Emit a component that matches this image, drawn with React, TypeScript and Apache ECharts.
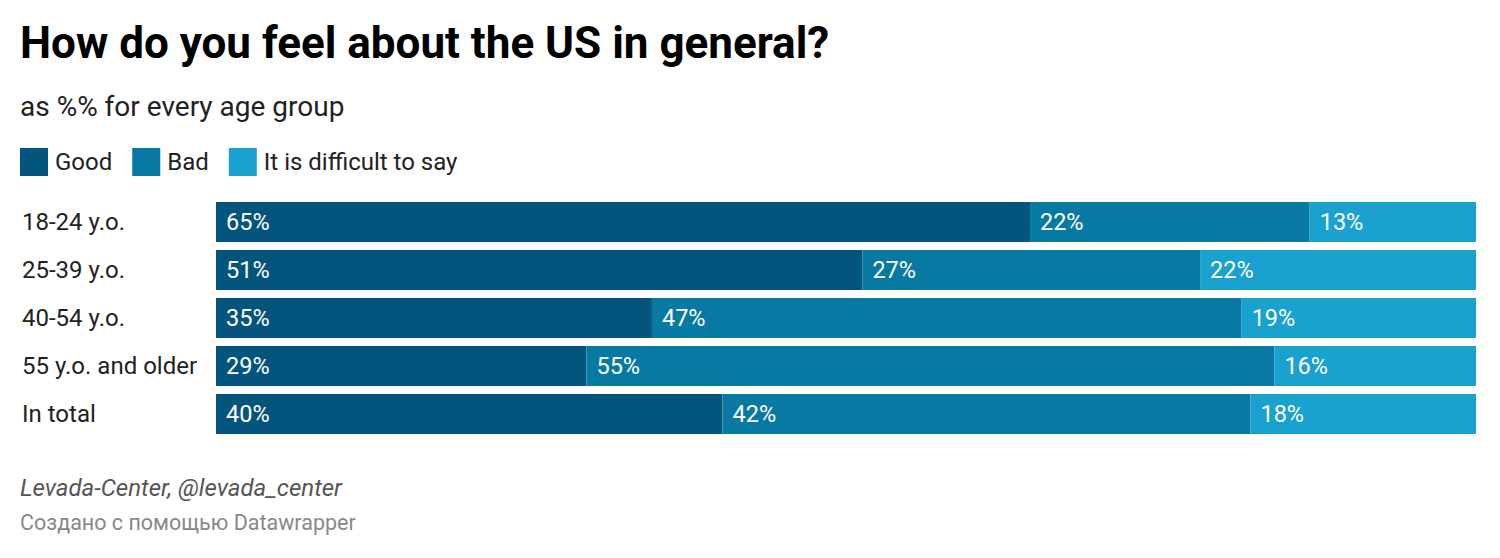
import React, { useEffect, useRef } from "react";
import * as echarts from "echarts";

const categories = ["18-24 y.o.", "25-39 y.o.", "40-54 y.o.", "55 y.o. and older", "In total"];
const seriesNames = ["Good", "Bad", "It is difficult to say"];
const good = [64.6, 51.3, 34.6, 29.4, 40.2];
const bad = [22.2, 26.8, 46.8, 54.6, 41.9];
const difficult = [13.2, 21.9, 18.6, 16.0, 18.0];
const colors = ["#03557d", "#0779a3", "#19a1cf"];

const FONT = "Roboto, 'Noto Sans', sans-serif";

export default function App() {
  const ref = useRef<HTMLDivElement>(null);
  useEffect(() => {
    document.body.style.margin = "0";
    if (!ref.current) return;
    const chart = echarts.init(ref.current, undefined, { renderer: "svg" });
    const raw = [good, bad, difficult];
    const series = raw.map((arr, s) => ({
      name: seriesNames[s],
      type: "bar",
      stack: "total",
      barWidth: 40,
      itemStyle: { color: colors[s] },
      emphasis: { disabled: true },
      label: {
        show: true,
        position: "insideLeft",
        distance: 10,
        color: "#ffffff",
        fontSize: 23.5,
        fontFamily: FONT,
        formatter: (p: any) => Math.round(p.value) + "%",
      },
      data: arr,
    }));
    chart.setOption({
      animation: false,
      textStyle: { fontFamily: FONT },
      title: [
        {
          text: "How do you feel about the US in general?",
          left: 20,
          top: 21,
          padding: 0,
          textStyle: { fontSize: 44, fontWeight: "bold", color: "#000", fontFamily: FONT },
        },
        {
          text: "as %% for every age group",
          left: 20,
          top: 92,
          padding: 0,
          textStyle: { fontSize: 28, fontWeight: "normal", color: "#222", fontFamily: FONT },
        },
        {
          text: "Levada-Center, @levada_center",
          left: 20,
          top: 476,
          padding: 0,
          textStyle: { fontSize: 24, fontWeight: "normal", fontStyle: "italic", color: "#555", fontFamily: FONT },
        },
        {
          text: "Создано с помощью Datawrapper",
          left: 20,
          top: 511,
          padding: 0,
          textStyle: { fontSize: 21.5, fontWeight: "normal", color: "#888", fontFamily: FONT },
        },
      ],
      legend: {
        left: 20,
        top: 148,
        padding: 0,
        icon: "rect",
        itemWidth: 28,
        itemHeight: 28,
        itemGap: 20,
        selectedMode: false,
        textStyle: { fontSize: 24, color: "#222", fontFamily: FONT, padding: [0, 0, 0, 2] },
        data: seriesNames,
      },
      grid: { left: 216, right: 24, top: 198, height: 240 },
      xAxis: {
        type: "value",
        min: 0,
        max: 100,
        show: false,
      },
      yAxis: {
        type: "category",
        data: categories,
        inverse: true,
        axisLine: { show: false },
        axisTick: { show: false },
        splitLine: { show: false },
        axisLabel: {
          align: "left",
          margin: 194,
          fontSize: 24,
          color: "#222",
          fontFamily: FONT,
        },
      },
      series,
    });
    return () => chart.dispose();
  }, []);
  return <div ref={ref} style={{ width: 1500, height: 558 }} />;
}
